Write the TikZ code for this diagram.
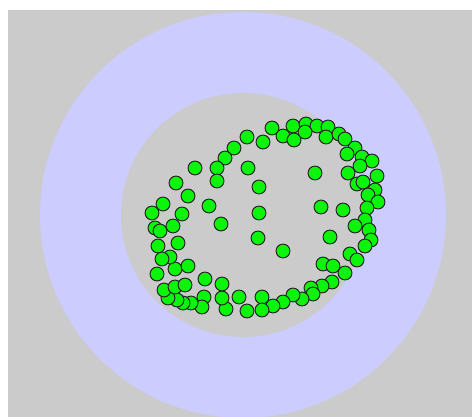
\documentclass[tikz,border=0pt]{standalone}
\usepackage{xcolor,tikz}
\definecolor{bggray}{RGB}{203,203,203}
\definecolor{ringblue}{RGB}{204,204,255}
\definecolor{dotgreen}{RGB}{10,245,10}
\tikzset{dot/.style={circle,draw=black!85,fill=dotgreen,line width=0.75pt,inner sep=0pt,minimum size=10.4pt}}

\begin{document}
\begin{tikzpicture}[x=0.75pt,y=-0.75pt]
\useasboundingbox (0,0) rectangle (472,417);
\fill[white] (0,0) rectangle (472,417);
\begin{scope}
\clip (8,10) rectangle (472,417);
\fill[bggray] (8,10) rectangle (472,417);
\fill[ringblue] (243,215) circle (203);
\fill[bggray] (243,215) circle (122);
\end{scope}
% the cloud of points
\foreach \x/\y [count=\i] in {272/128,293/126,306/124,317/126,328/127,283/136,294/140,305/132,326/137,339/134,
  345/139,263/142,247/137,234/148,225/158,217/168,217/181,195/168,248/168,259/187,
  315/173,355/148,347/154,362/157,372/161,360/166,348/173,377/176,357/184,363/182,
  375/190,368/195,378/202,367/208,365/220,355/226,369/230,371/240,365/246,350/254,
  357/260,343/210,321/207,330/237,323/264,333/266,345/273,332/282,322/286,311/288,
  313/294,302/299,293/295,283/302,273/306,262/297,262/310,247/311,239/297,226/309,
  222/298,222/284,205/279,204/297,202/307,191/303,183/303,177/300,168/298,164/290,
  175/287,185/285,157/274,175/269,188/266,170/257,162/259,158/246,178/243,155/228,
  160/231,173/226,152/213,182/214,163/204,176/183,188/196,209/206,221/224,259/213,
  258/238,283/251}{
  \node[dot] (d\i) at (\x,\y) {};}
\end{tikzpicture}
\end{document}
